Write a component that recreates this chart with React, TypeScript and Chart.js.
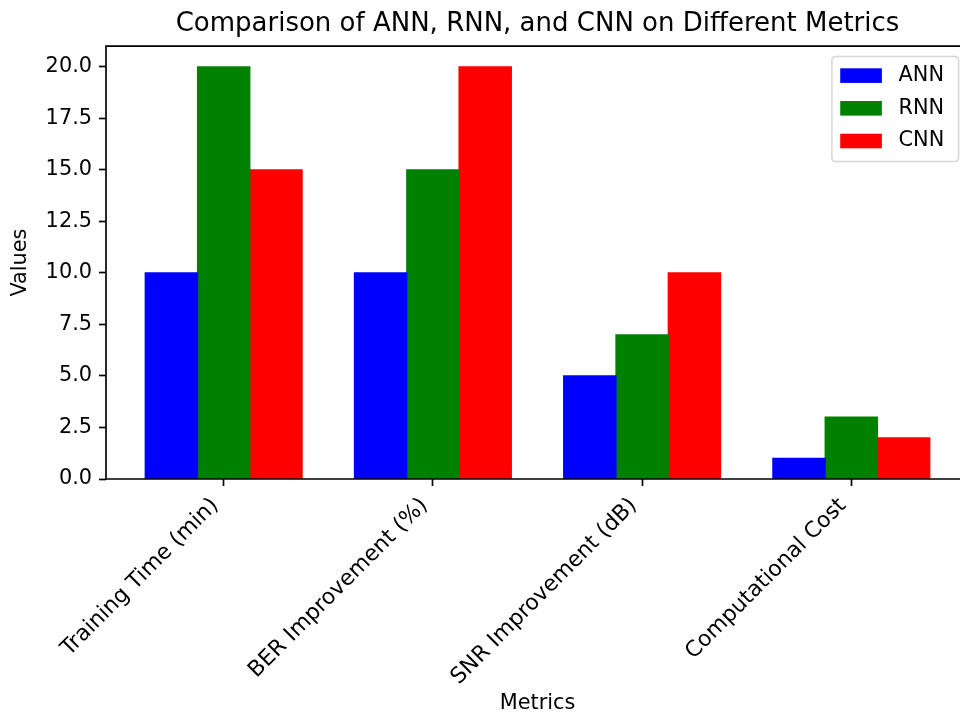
import React, { useEffect, useRef } from "react";
import { Chart, registerables } from "chart.js";

Chart.register(...registerables);

const categories = [
  "Training Time (min)",
  "BER Improvement (%)",
  "SNR Improvement (dB)",
  "Computational Cost",
];
const seriesNames = ["ANN", "RNN", "CNN"];
const annValues = [10, 10, 5, 1];
const rnnValues = [20, 15, 7, 3];
const cnnValues = [15, 20, 10, 2];
const seriesColors = ["#0000ff", "#008000", "#ff0000"];
const yTicks = [0, 2.5, 5, 7.5, 10, 12.5, 15, 17.5, 20];
const chartTitle = "Comparison of ANN, RNN, and CNN on Different Metrics";
const xTitle = "Metrics";
const yTitle = "Values";

const FAMILY = "'DejaVu Sans', sans-serif";
const FS = 20.83;

const framePlugin = {
  id: "mplFrame",
  afterDatasetsDraw(chart: any) {
    const { ctx, chartArea: a } = chart;
    ctx.save();
    // spines
    ctx.strokeStyle = "#000";
    ctx.lineWidth = 1.67;
    ctx.lineJoin = "miter";
    ctx.beginPath();
    ctx.moveTo(a.left, a.bottom);
    ctx.lineTo(a.left, a.top);
    ctx.lineTo(a.right, a.top);
    ctx.lineTo(a.right, a.bottom);
    ctx.closePath();
    ctx.stroke();

    // legend
    const ds = chart.data.datasets;
    ctx.font = `${FS}px ${FAMILY}`;
    const maxW = Math.max(...ds.map((d: any) => ctx.measureText(d.label).width));
    const padB = 0.4 * FS;
    const handleLen = 2.0 * FS;
    const handleH = 0.7 * FS;
    const textPad = 0.8 * FS;
    const rowStep = 32.7;
    const boxW = padB + handleLen + textPad + maxW + padB + 6;
    const boxH = 105;
    const right = a.right - 0.5 * FS;
    const top = a.top + 0.5 * FS;
    const left = right - boxW;
    const r = 4;
    ctx.beginPath();
    ctx.moveTo(left + r, top);
    ctx.lineTo(right - r, top);
    ctx.quadraticCurveTo(right, top, right, top + r);
    ctx.lineTo(right, top + boxH - r);
    ctx.quadraticCurveTo(right, top + boxH, right - r, top + boxH);
    ctx.lineTo(left + r, top + boxH);
    ctx.quadraticCurveTo(left, top + boxH, left, top + boxH - r);
    ctx.lineTo(left, top + r);
    ctx.quadraticCurveTo(left, top, left + r, top);
    ctx.closePath();
    ctx.fillStyle = "rgba(255,255,255,0.8)";
    ctx.fill();
    ctx.strokeStyle = "#d6d6d6";
    ctx.lineWidth = 1.5;
    ctx.stroke();

    ds.forEach((d: any, i: number) => {
      const cy = top + 19 + i * rowStep;
      const hx = left + padB;
      ctx.fillStyle = d.backgroundColor;
      ctx.fillRect(hx, cy - handleH / 2, handleLen, handleH);
      ctx.fillStyle = "#000";
      ctx.textAlign = "left";
      ctx.textBaseline = "middle";
      ctx.fillText(d.label, hx + handleLen + textPad, cy);
    });
    ctx.restore();
  },
};

export default function App() {
  const ref = useRef<HTMLCanvasElement | null>(null);

  useEffect(() => {
    if (!ref.current) return;
    const seriesValues = [annValues, rnnValues, cnnValues];
    const chart = new Chart(ref.current, {
      type: "bar",
      data: {
        datasets: seriesNames.map((name, s) => ({
          label: name,
          data: categories.map((_, i) => ({ x: i, y: seriesValues[s][i] })),
          backgroundColor: seriesColors[s],
          borderWidth: 0,
          inflateAmount: 0.6,
        })),
      },
      options: {
        responsive: false,
        animation: false,
        devicePixelRatio: 1,
        layout: { padding: { left: 0, right: 11, top: 0, bottom: 0 } },
        datasets: { bar: { categoryPercentage: 0.75, barPercentage: 1.0 } },
        plugins: {
          legend: { display: false },
          tooltip: { enabled: false },
          title: {
            display: true,
            text: chartTitle,
            fullSize: false,
            color: "#000",
            font: { size: 26, weight: "normal", family: FAMILY },
            padding: { top: 9, bottom: 6 },
          },
        },
        scales: {
          x: {
            type: "linear",
            min: -0.5625,
            max: 3.5625,
            offset: false,
            grid: {
              display: true,
              drawOnChartArea: false,
              drawTicks: true,
              tickLength: 7,
              tickWidth: 1.67,
              tickColor: "#000",
              offset: false,
            },
            border: { display: false },
            afterBuildTicks: (axis: any) => {
              axis.ticks = categories.map((_, i) => ({ value: i }));
            },
            ticks: {
              autoSkip: false,
              minRotation: 45,
              maxRotation: 45,
              padding: 7,
              labelOffset: -8.5,
              color: "#000",
              font: { size: 21.9, family: FAMILY },
              callback: (v: any) => categories[Math.round(Number(v))] ?? "",
            },
            title: {
              display: true,
              text: xTitle,
              color: "#000",
              font: { size: FS, family: FAMILY },
              padding: { top: 1, bottom: 0 },
            },
            afterFit: (s: any) => {
              s.height = 237;
            },
          },
          y: {
            type: "linear",
            min: 0,
            max: 21,
            grid: {
              display: true,
              drawOnChartArea: false,
              drawTicks: true,
              tickLength: 7,
              tickWidth: 1.67,
              tickColor: "#000",
            },
            border: { display: false },
            afterBuildTicks: (axis: any) => {
              axis.ticks = yTicks.map((v) => ({ value: v }));
            },
            ticks: {
              padding: 7,
              color: "#000",
              font: { size: FS, family: FAMILY },
              callback: (v: any) => Number(v).toFixed(1),
            },
            title: {
              display: true,
              text: yTitle,
              color: "#000",
              font: { size: FS, family: FAMILY },
              padding: { top: 8, bottom: 0 },
            },
            afterFit: (s: any) => {
              s.width = 106;
            },
          },
        },
      },
      plugins: [framePlugin],
    } as any);
    return () => chart.destroy();
  }, []);

  return (
    <div
      style={{
        position: "fixed",
        left: 0,
        top: 0,
        width: 960,
        height: 716,
        overflow: "hidden",
        background: "#fff",
      }}
    >
      <canvas
        ref={ref}
        width={980}
        height={716}
        style={{ display: "block", width: 980, height: 716 }}
      />
    </div>
  );
}
